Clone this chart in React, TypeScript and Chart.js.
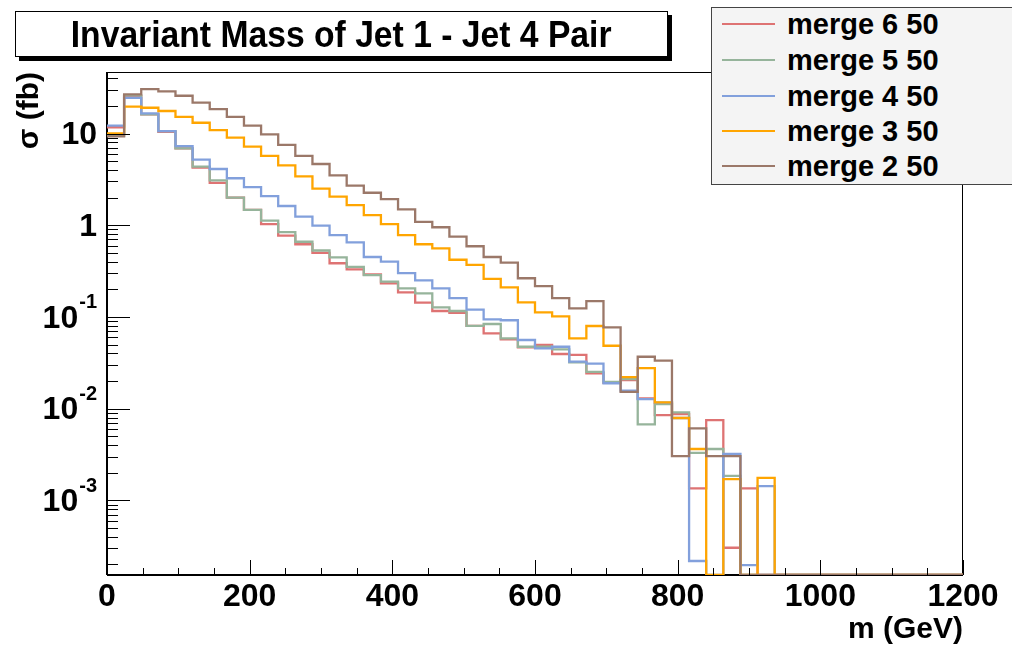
import React, { useEffect, useRef } from "react";
import { Chart, registerables } from "chart.js";

Chart.register(...registerables);

// ---------------- data ----------------
const BIN_WIDTH = 24; // GeV
const NBINS = 50;
const X_MIN = 0;
const X_MAX = 1200;
const Y_MIN = 1.534e-4;
const Y_MAX = 46.85;

const xTickValues = [0, 200, 400, 600, 800, 1000, 1200];
const yDecadeValues = [10, 1, 0.1, 0.01, 0.001];
const yDecadeBases = ["10", "1", "10", "10", "10"];
const yDecadeExponents = ["", "", "-1", "-2", "-3"];

const titleText = "Invariant Mass of Jet 1 - Jet 4 Pair";
const xTitle = "m (GeV)";
const yTitle = "σ (fb)";

const seriesNames = ["merge 6 50", "merge 5 50", "merge 4 50", "merge 3 50", "merge 2 50"];

const merge6 = [
  11.7, 25.5, 16.2, 10.4, 6.9, 4.24, 2.9, 2.0, 1.47, 1.03,
  0.77, 0.62, 0.50, 0.385, 0.33, 0.29, 0.232, 0.185, 0.143, 0.116,
  0.111, 0.080, 0.0663, 0.057, 0.0466, 0.0494, 0.0394, 0.0385, 0.0243, 0.0191,
  0.0205, 0.0129, 0.0085, 0.0087, 0.00135, 0.0075, 0.000304, 0.00135, 0, 0,
  0, 0, 0, 0, 0, 0, 0, 0, 0, 0,
];
const merge5 = [
  9.5, 26.0, 16.2, 10.6, 6.9, 4.35, 3.09, 2.0, 1.47, 1.12,
  0.84, 0.66, 0.53, 0.445, 0.352, 0.285, 0.242, 0.205, 0.181, 0.127,
  0.116, 0.080, 0.0837, 0.0585, 0.0473, 0.0473, 0.0443, 0.032, 0.0252, 0.0196,
  0.021, 0.00675, 0.0112, 0.0091, 0.0033, 0.00363, 0.00185, 0, 0, 0,
  0, 0, 0, 0, 0, 0, 0, 0, 0, 0,
];
const merge4 = [
  12.2, 24.5, 16.6, 10.6, 7.3, 5.2, 4.1, 3.25, 2.6, 2.08,
  1.62, 1.24, 0.99, 0.78, 0.65, 0.45, 0.40, 0.30, 0.25, 0.205,
  0.16, 0.12, 0.094, 0.092, 0.056, 0.0455, 0.0473, 0.0325, 0.031, 0.0189,
  0.0157, 0.0127, 0.0116, 0.0079, 0.000218, 0, 0.0032, 0.000197, 0.00143, 0,
  0, 0, 0, 0, 0, 0, 0, 0, 0, 0,
];
const merge3 = [
  10.0, 19.6, 19.1, 17.6, 15.2, 13.1, 10.9, 9.0, 7.2, 5.7,
  4.5, 3.4, 2.5, 2.05, 1.66, 1.29, 1.03, 0.78, 0.62, 0.56,
  0.42, 0.37, 0.26, 0.21, 0.144, 0.112, 0.1016, 0.0585, 0.0796, 0.0485,
  0.0221, 0.0277, 0.0117, 0.0079, 0.00363, 0, 0.0017, 0, 0.00176, 0,
  0, 0, 0, 0, 0, 0, 0, 0, 0, 0,
];
const merge2 = [
  9.3, 26.7, 30.5, 28.8, 25.8, 21.7, 18.4, 15.2, 12.2, 9.8,
  7.5, 5.7, 4.65, 3.5, 2.7, 2.26, 1.93, 1.49, 1.09, 0.95,
  0.75, 0.59, 0.45, 0.39, 0.264, 0.217, 0.16, 0.124, 0.149, 0.077,
  0.0152, 0.0368, 0.0333, 0.00304, 0.0061, 0.00304, 0.00304, 0, 0, 0,
  0, 0, 0, 0, 0, 0, 0, 0, 0, 0,
];

// ---------------- styles ----------------
const FONT = '"Liberation Sans", Arial, Helvetica, sans-serif';
const seriesColors = ["#de7373", "#96b49b", "#82a0dc", "#ffa500", "#9b7869"];
const seriesOrder = [4, 3, 2, 1, 0]; // merge 2 drawn on top

const CANVAS_W = 1012;
const CANVAS_H = 645;
const PLOT_LEFT = 107;
const PLOT_RIGHT = 963;
const PLOT_TOP = 72;
const PLOT_BOTTOM = 575;

function toPoints(vals: number[]) {
  const pts = vals.map((v, i) => ({ x: i * BIN_WIDTH, y: v > 0 ? v : Y_MIN }));
  const last = vals[vals.length - 1];
  pts.push({ x: NBINS * BIN_WIDTH, y: last > 0 ? last : Y_MIN });
  return pts;
}

const rootAxes = {
  id: "rootAxes",
  beforeDatasetsDraw(chart: any) {
    const { ctx, chartArea } = chart;
    const { left, right, top, bottom } = chartArea;
    ctx.save();
    ctx.strokeStyle = "#000";
    ctx.lineWidth = 1;
    ctx.beginPath();
    ctx.moveTo(left, top + 0.5);
    ctx.lineTo(right, top + 0.5);
    ctx.moveTo(right - 0.5, top);
    ctx.lineTo(right - 0.5, bottom);
    ctx.stroke();
    ctx.lineWidth = 2;
    ctx.beginPath();
    ctx.moveTo(left, bottom);
    ctx.lineTo(right, bottom);
    ctx.moveTo(left, top);
    ctx.lineTo(left, bottom);
    ctx.stroke();
    ctx.restore();
  },
  afterDatasetsDraw(chart: any) {
    const { ctx, chartArea, scales } = chart;
    const { left, bottom } = chartArea;
    const xs = scales.x;
    const ys = scales.y;
    ctx.save();
    ctx.strokeStyle = "#000";
    ctx.lineWidth = 1;
    ctx.beginPath();
    for (let v = X_MIN; v <= X_MAX; v += 50) {
      const px = Math.round(xs.getPixelForValue(v)) + 0.5;
      const len = v % 200 === 0 ? 15 : 7;
      ctx.moveTo(px, bottom);
      ctx.lineTo(px, bottom - len);
    }
    for (let e = -4; e <= 1; e++) {
      for (let k = 1; k <= 9; k++) {
        const v = k * Math.pow(10, e);
        if (v < Y_MIN || v > Y_MAX) continue;
        const py = Math.round(ys.getPixelForValue(v)) + 0.5;
        const len = k === 1 ? 23 : 11;
        ctx.moveTo(left, py);
        ctx.lineTo(left + len, py);
      }
    }
    ctx.stroke();

    // y labels with superscript exponents
    ctx.fillStyle = "#000";
    ctx.textAlign = "right";
    ctx.textBaseline = "middle";
    const rightX = left - 10;
    yDecadeValues.forEach((v, i) => {
      const py = ys.getPixelForValue(v);
      const base = yDecadeBases[i];
      const exp = yDecadeExponents[i];
      let bx = rightX;
      if (exp) {
        ctx.font = `bold 20px ${FONT}`;
        const w = ctx.measureText(exp).width;
        ctx.fillText(exp, rightX, py - 14);
        bx = rightX - w - 1;
      }
      ctx.font = `bold 32px ${FONT}`;
      ctx.fillText(base, bx, py + 2);
    });
    ctx.restore();
  },
};

export default function App() {
  const ref = useRef<HTMLCanvasElement>(null);

  useEffect(() => {
    const allSeries = [merge6, merge5, merge4, merge3, merge2];
    const chart = new Chart(ref.current as HTMLCanvasElement, {
      type: "line",
      data: {
        datasets: allSeries.map((vals, i) => ({
          label: seriesNames[i],
          data: toPoints(vals),
          borderColor: seriesColors[i],
          backgroundColor: seriesColors[i],
          borderWidth: 2.3,
          pointRadius: 0,
          pointHoverRadius: 0,
          fill: false,
          stepped: "before" as const,
          tension: 0,
          order: seriesOrder[i],
        })),
      },
      options: {
        animation: false,
        responsive: false,
        maintainAspectRatio: false,
        devicePixelRatio: 1,
        layout: {
          padding: { left: 0, right: CANVAS_W - PLOT_RIGHT, top: PLOT_TOP, bottom: 0 },
        },
        plugins: {
          legend: { display: false },
          title: { display: false },
          tooltip: { enabled: false },
        },
        scales: {
          x: {
            type: "linear",
            min: X_MIN,
            max: X_MAX,
            afterBuildTicks: (scale: any) => {
              scale.ticks = xTickValues.map((v) => ({ value: v }));
            },
            afterFit: (scale: any) => {
              scale.height = CANVAS_H - PLOT_BOTTOM;
            },
            grid: { display: false, drawTicks: false },
            border: { display: false },
            ticks: {
              color: "#000",
              padding: 6,
              maxRotation: 0,
              autoSkip: false,
              callback: (v: any) => String(v),
              font: { family: FONT, size: 32, weight: "bold", lineHeight: 1 },
            },
            title: {
              display: true,
              text: xTitle,
              align: "end",
              color: "#000",
              padding: { top: 2, bottom: 0 },
              font: { family: FONT, size: 30, weight: "bold", lineHeight: 1 },
            },
          },
          y: {
            type: "logarithmic",
            min: Y_MIN,
            max: Y_MAX,
            afterFit: (scale: any) => {
              scale.width = PLOT_LEFT;
            },
            grid: { display: false, drawTicks: false },
            border: { display: false },
            ticks: { display: false },
            title: {
              display: true,
              text: yTitle,
              align: "end",
              color: "#000",
              padding: { top: 15, bottom: 0 },
              font: { family: FONT, size: 30, weight: "bold", lineHeight: 1 },
            },
          },
        },
      },
      plugins: [rootAxes],
    } as any);
    return () => chart.destroy();
  }, []);

  const legendRows = [24, 60, 96, 131, 166];

  return (
    <div
      style={{
        position: "absolute",
        left: 0,
        top: 0,
        width: CANVAS_W,
        height: CANVAS_H,
        background: "#fff",
        overflow: "hidden",
        fontFamily: FONT,
      }}
    >
      <canvas
        ref={ref}
        width={CANVAS_W}
        height={CANVAS_H}
        style={{ position: "absolute", left: 0, top: 0 }}
      />
      <div
        style={{
          position: "absolute",
          left: 15,
          top: 11,
          width: 651,
          height: 44,
          border: "1px solid #000",
          background: "#fff",
          boxShadow: "4px 4px 0 #000",
          display: "flex",
          alignItems: "center",
          justifyContent: "center",
          overflow: "visible",
        }}
      >
        <span
          style={{
            fontWeight: "bold",
            fontSize: 37,
            lineHeight: 1,
            whiteSpace: "nowrap",
            display: "inline-block",
            transform: "scaleX(0.91)",
            color: "#000",
          }}
        >
          {titleText}
        </span>
      </div>
      <div
        style={{
          position: "absolute",
          left: 711,
          top: 7,
          width: 310,
          height: 176,
          border: "1px solid #444",
          background: "#f4f4f4",
        }}
      />
      {seriesNames.map((name, i) => (
        <React.Fragment key={name}>
          <div
            style={{
              position: "absolute",
              left: 722,
              top: legendRows[i] - 1,
              width: 53,
              height: 2,
              background: seriesColors[i],
            }}
          />
          <div
            style={{
              position: "absolute",
              left: 787,
              top: legendRows[i] - 16,
              height: 32,
              lineHeight: "32px",
              fontSize: 29,
              fontWeight: "bold",
              whiteSpace: "nowrap",
              color: "#000",
            }}
          >
            {name}
          </div>
        </React.Fragment>
      ))}
    </div>
  );
}
